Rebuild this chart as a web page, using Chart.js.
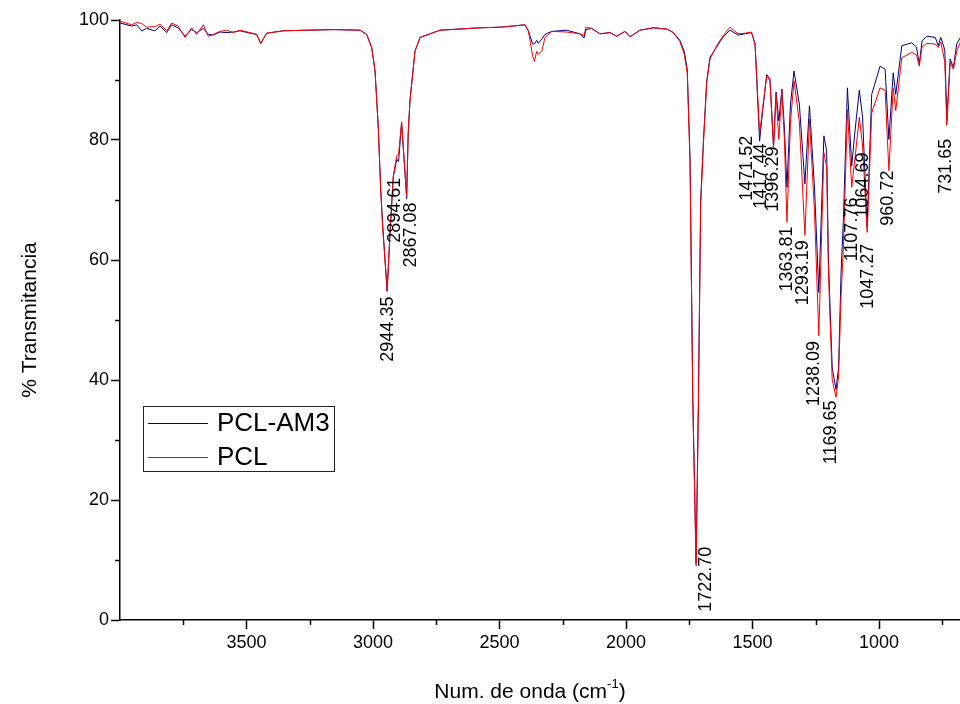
<!DOCTYPE html>
<html>
<head>
<meta charset="utf-8">
<script src="https://cdn.jsdelivr.net/npm/chart.js@4.4.0/dist/chart.umd.min.js"></script>
<style>
  html, body { margin: 0; padding: 0; background: #fff; }
</style>
</head>
<body>
<canvas id="myChart" width="960" height="704"></canvas>
<script>
// wavenumber (cm-1) and % transmittance
const wavenumbers = [4000, 3954, 3934, 3914, 3895, 3862, 3842, 3815, 3796, 3770, 3743, 3717, 3697, 3671, 3651, 3631, 3605, 3578, 3552, 3526, 3486, 3460, 3444, 3420, 3354, 3262, 3157, 3051, 3025, 3005, 2992, 2979, 2970, 2962, 2944, 2933, 2920, 2906, 2899, 2887, 2867, 2861, 2854, 2834, 2814, 2735, 2577, 2498, 2446, 2399, 2386, 2369, 2362, 2353, 2347, 2333, 2320, 2294, 2235, 2182, 2166, 2158, 2136, 2103, 2063, 2037, 2004, 1984, 1945, 1892, 1839, 1813, 1787, 1770, 1758, 1747, 1736, 1723, 1714, 1705, 1694, 1681, 1668, 1642, 1616, 1589, 1557, 1530, 1504, 1490, 1472, 1460, 1444, 1431, 1417, 1407, 1396, 1384, 1374, 1364, 1350, 1336, 1315, 1293, 1275, 1255, 1238, 1218, 1207, 1200, 1185, 1170, 1160, 1150, 1141, 1125, 1108, 1095, 1078, 1065, 1047, 1029, 996, 976, 961, 944, 934, 910, 871, 852, 841, 830, 811, 778, 766, 756, 740, 732, 719, 706, 693, 680];
const pclAm3 = [99.5, 99.0, 99.2, 98.2, 98.6, 98.2, 99.0, 97.9, 99.2, 98.7, 97.3, 98.4, 97.9, 98.6, 97.6, 97.5, 98.0, 97.9, 98.0, 98.2, 97.8, 97.6, 96.1, 97.8, 98.2, 98.3, 98.4, 98.3, 97.6, 95.4, 91.5, 82.0, 72.0, 66.0, 54.8, 64.3, 73.8, 76.8, 76.4, 82.9, 70.2, 81.0, 86.5, 94.8, 97.1, 98.3, 98.7, 98.8, 99.0, 99.2, 98.2, 96.0, 96.0, 96.6, 96.1, 96.8, 97.6, 98.1, 98.3, 97.7, 97.0, 98.4, 98.6, 97.7, 97.9, 97.3, 98.1, 97.2, 98.3, 98.7, 98.5, 97.9, 96.6, 94.8, 91.8, 77.0, 37.0, 9.6, 36.6, 69.9, 79.9, 89.9, 93.8, 95.5, 97.2, 98.3, 97.5, 97.7, 97.9, 96.0, 79.8, 84.9, 90.9, 90.2, 78.8, 88.0, 83.2, 88.5, 82.0, 72.1, 86.0, 91.5, 86.0, 72.7, 85.7, 72.0, 54.6, 80.7, 78.2, 60.0, 42.0, 38.4, 42.0, 58.0, 66.6, 88.7, 75.7, 81.5, 88.3, 83.8, 65.5, 87.6, 92.3, 91.8, 80.1, 91.2, 87.6, 95.7, 96.2, 95.5, 92.6, 96.5, 97.3, 97.1, 95.7, 97.1, 95.0, 83.2, 93.5, 92.1, 96.0, 97.0];
const pcl = [99.8, 99.2, 99.6, 99.4, 98.8, 98.9, 99.3, 98.2, 99.5, 99.0, 97.1, 98.7, 97.6, 99.2, 97.3, 97.6, 98.1, 98.3, 97.9, 98.3, 97.9, 97.6, 96.1, 97.8, 98.2, 98.3, 98.4, 98.3, 97.6, 95.4, 91.5, 82.0, 72.0, 65.5, 54.8, 64.5, 74.0, 77.4, 77.6, 83.0, 70.7, 81.0, 86.5, 94.8, 97.1, 98.3, 98.7, 98.8, 99.0, 99.2, 98.2, 94.0, 93.1, 94.8, 94.3, 94.8, 97.1, 98.1, 98.0, 97.7, 97.4, 98.8, 98.6, 97.7, 97.9, 97.3, 98.1, 97.2, 98.3, 98.7, 98.5, 97.9, 96.4, 94.3, 91.2, 76.0, 36.0, 9.0, 35.0, 69.0, 79.5, 89.5, 93.5, 95.7, 97.4, 98.8, 97.7, 97.8, 98.0, 96.0, 81.0, 85.3, 90.7, 89.8, 78.8, 87.6, 80.1, 88.2, 80.0, 66.3, 83.0, 89.9, 83.0, 64.1, 83.5, 68.0, 47.4, 77.9, 75.5, 58.0, 40.0, 37.1, 40.5, 54.0, 62.0, 85.1, 72.1, 77.0, 83.8, 79.0, 64.6, 84.5, 88.7, 88.3, 74.9, 88.7, 84.9, 93.7, 94.6, 94.2, 92.3, 95.5, 96.1, 96.0, 95.4, 96.3, 93.0, 82.4, 92.9, 91.8, 94.8, 96.2];

// peak annotations: text, x of the label (cm-1), top end of the label (% T)
const peakLabels = ['2944.35', '2894.61', '2867.08', '1722.70', '1471.52', '1417.44', '1396.29', '1363.81', '1293.19', '1238.09', '1169.65', '1107.76', '1064.69', '1047.27', '960.72', '731.65'];
const peakLabelX = [2940, 2913, 2848, 1684, 1520, 1467, 1418, 1365, 1299, 1256, 1190, 1108, 1062, 1042, 963, 735];
const peakLabelTop = [53.9, 73.7, 69.6, 12.2, 80.7, 79.4, 78.9, 65.6, 63.3, 46.5, 36.6, 70.4, 77.9, 62.7, 74.9, 80.2];

const xTickValues = [1000, 1500, 2000, 2500, 3000, 3500];
const xMinorTicks = [750, 1250, 1750, 2250, 2750, 3250, 3750];
const yMinorTicks = [10, 30, 50, 70, 90];

const seriesNames = ['PCL-AM3', 'PCL'];
const seriesColors = ['#000080', '#ff0000'];

const FONT = "'Liberation Sans', Arial, sans-serif";

function toPoints(values) {
    return wavenumbers.map(function (w, i) { return { x: w, y: values[i] }; });
}

const extras = {
    id: 'extras',
    afterDraw(chart) {
        const ctx = chart.ctx;
        const xs = chart.scales.x;
        const ys = chart.scales.y;
        const area = chart.chartArea;
        ctx.save();

        // minor ticks
        ctx.strokeStyle = '#000';
        ctx.lineWidth = 1.5;
        ctx.beginPath();
        xMinorTicks.forEach(function (v) {
            const px = Math.round(xs.getPixelForValue(v)) + 0.5;
            ctx.moveTo(px, area.bottom);
            ctx.lineTo(px, area.bottom + 5);
        });
        yMinorTicks.forEach(function (v) {
            const py = Math.round(ys.getPixelForValue(v)) + 0.5;
            ctx.moveTo(area.left, py);
            ctx.lineTo(area.left - 5, py);
        });
        ctx.stroke();

        // peak labels
        ctx.fillStyle = '#000';
        ctx.font = '18px ' + FONT;
        ctx.textAlign = 'right';
        ctx.textBaseline = 'middle';
        for (let i = 0; i < peakLabels.length; i++) {
            const px = xs.getPixelForValue(peakLabelX[i]);
            const py = ys.getPixelForValue(peakLabelTop[i]);
            ctx.save();
            ctx.translate(px, py);
            ctx.rotate(-Math.PI / 2);
            ctx.fillText(peakLabels[i], 0, 0);
            ctx.restore();
        }

        // axis titles
        ctx.font = '21px ' + FONT;
        ctx.textAlign = 'center';
        ctx.save();
        ctx.translate(30, (area.top + area.bottom) / 2);
        ctx.rotate(-Math.PI / 2);
        ctx.fillText('% Transmitancia', 0, 0);
        ctx.restore();

        const main = 'Num. de onda (cm';
        const sup = '-1';
        const close = ')';
        ctx.font = '21px ' + FONT;
        const w1 = ctx.measureText(main).width;
        const w3 = ctx.measureText(close).width;
        ctx.font = '13px ' + FONT;
        const w2 = ctx.measureText(sup).width;
        const x0 = 530 - (w1 + w2 + w3) / 2;
        const yT = 692;
        ctx.textAlign = 'left';
        ctx.font = '21px ' + FONT;
        ctx.fillText(main, x0, yT);
        ctx.font = '13px ' + FONT;
        ctx.fillText(sup, x0 + w1, yT - 8);
        ctx.font = '21px ' + FONT;
        ctx.fillText(close, x0 + w1 + w2, yT);

        // legend
        ctx.strokeStyle = '#222';
        ctx.lineWidth = 1;
        ctx.strokeRect(143.5, 406.5, 191, 65);
        ctx.font = '26px ' + FONT;
        ctx.textBaseline = 'middle';
        const rowsY = [423, 457];
        for (let i = 0; i < seriesNames.length; i++) {
            ctx.strokeStyle = seriesColors[i];
            ctx.beginPath();
            ctx.moveTo(148, rowsY[i] + 0.5);
            ctx.lineTo(208, rowsY[i] + 0.5);
            ctx.stroke();
            ctx.fillText(seriesNames[i], 217, rowsY[i] + 1);
        }
        ctx.restore();
    }
};

function drawChart() {
    const canvas = document.getElementById('myChart').getContext('2d');
    new Chart(canvas, {
        type: 'line',
        data: {
            datasets: [{
                label: seriesNames[0],
                data: toPoints(pclAm3),
                borderColor: seriesColors[0],
                borderWidth: 1,
                pointRadius: 0,
                tension: 0,
                order: 1
            }, {
                label: seriesNames[1],
                data: toPoints(pcl),
                borderColor: seriesColors[1],
                borderWidth: 1,
                pointRadius: 0,
                tension: 0,
                order: 0
            }]
        },
        options: {
            responsive: false,
            animation: false,
            layout: { padding: { top: 20, right: 0, left: 0, bottom: 0 } },
            plugins: {
                legend: { display: false },
                tooltip: { enabled: false }
            },
            scales: {
                x: {
                    type: 'linear',
                    reverse: true,
                    min: 680,
                    max: 4000,
                    grid: {
                        drawOnChartArea: false,
                        tickLength: 9,
                        tickWidth: 1.5,
                        tickColor: '#000'
                    },
                    border: { color: '#000', width: 1.5 },
                    ticks: {
                        autoSkip: false,
                        maxRotation: 0,
                        color: '#000',
                        padding: 3,
                        font: { family: FONT, size: 18 },
                        callback: function (v) { return String(v); }
                    },
                    afterBuildTicks: function (s) {
                        s.ticks = xTickValues.map(function (v) { return { value: v }; });
                    },
                    afterFit: function (s) { s.height = 84; }
                },
                y: {
                    min: 0,
                    max: 100,
                    grid: {
                        drawOnChartArea: false,
                        tickLength: 9,
                        tickWidth: 1.5,
                        tickColor: '#000'
                    },
                    border: { color: '#000', width: 1.5 },
                    ticks: {
                        stepSize: 20,
                        color: '#000',
                        padding: 2,
                        font: { family: FONT, size: 18 },
                        callback: function (v) { return String(v); }
                    },
                    afterFit: function (s) { s.width = 120; }
                }
            }
        },
        plugins: [extras]
    });
}

drawChart();
</script>
</body>
</html>
